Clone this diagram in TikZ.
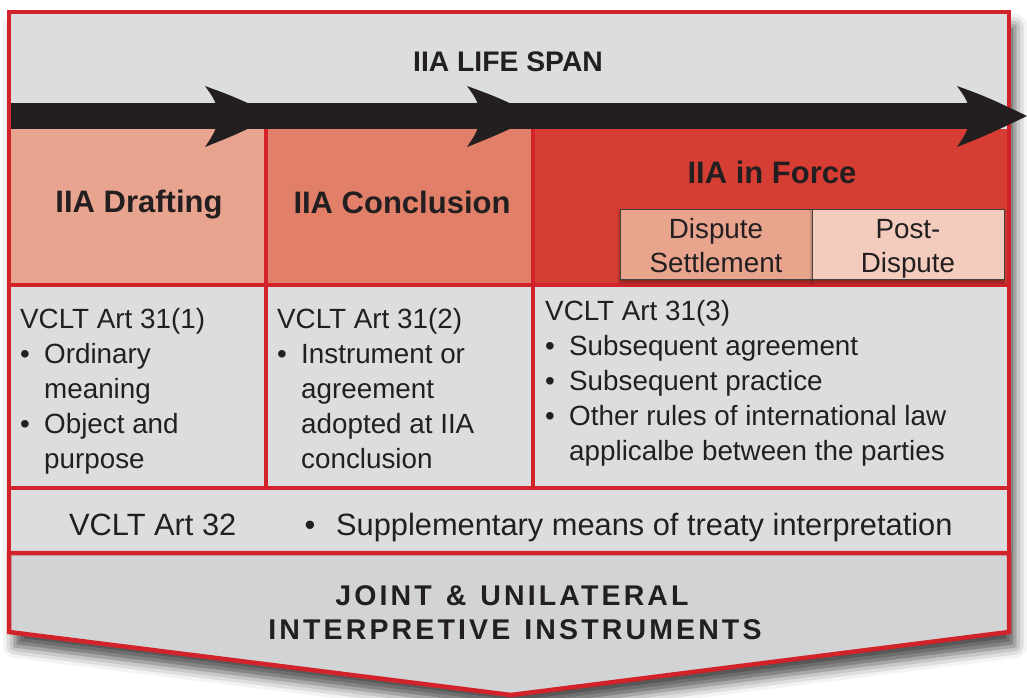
\documentclass[tikz,border=0pt]{standalone}
\usepackage{fontspec}
\setmainfont{Liberation Sans}
\newfontfamily\spacedfont[LetterSpace=11]{Liberation Sans}
\usetikzlibrary{shadows.blur}

\definecolor{ink}{HTML}{231F20}
\definecolor{frame}{HTML}{D2232A}
\definecolor{panel}{HTML}{DCDDDF}
\definecolor{panelB}{HTML}{D1D3D4}
\definecolor{drafting}{HTML}{E8A48E}
\definecolor{conclusion}{HTML}{E17F68}
\definecolor{inforce}{HTML}{D63D33}
\definecolor{dispute}{HTML}{E9A48E}
\definecolor{postdispute}{HTML}{F3CCBE}

\tikzset{
  redline/.style={draw=frame, line width=4.5pt},
  body/.style={text=ink, inner sep=0pt, anchor=base west, font=\fontsize{27.8}{35}\selectfont},
  bodyc/.style={text=ink, inner sep=0pt, anchor=base, font=\fontsize{27.8}{35}\selectfont},
  art/.style={text=ink, inner sep=0pt, font=\fontsize{30.8}{36}\selectfont},
  phase/.style={text=ink, inner sep=0pt, anchor=base, font=\bfseries\fontsize{31}{37}\selectfont},
  headline/.style={text=ink, inner sep=0pt, anchor=base, font=\bfseries\fontsize{28.3}{34}\selectfont},
  spaced/.style={text=ink, inner sep=0pt, anchor=base, font=\spacedfont\bfseries\fontsize{28.5}{34}\selectfont},
  subbox/.style={draw=ink!85, line width=0.9pt, minimum width=192pt, minimum height=70pt, inner sep=0pt,
    blur shadow={shadow xshift=0pt, shadow yshift=-3pt, shadow blur radius=3pt, shadow opacity=45}}
}
\newcommand{\bul}[1]{\makebox[24pt][l]{\textbullet}#1}
\newcommand{\wsp}{\hspace{14pt}}

\begin{document}
\begin{tikzpicture}[x=1pt,y=-1pt]
\useasboundingbox (0,0) rectangle (1027,698);

% drop shadow behind the whole chart
\path[fill=panelB, blur shadow={shadow xshift=6pt, shadow yshift=-14pt, shadow blur radius=12pt, shadow opacity=70}]
  (9,12) -- (1009,12) -- (1009,632) -- (511,695) -- (9,632) -- cycle;

% panels
\fill[panel] (9,12) rectangle (1009,553);
\fill[drafting] (11,129) rectangle (266,285);
\fill[conclusion] (266,129) rectangle (533,285);
\fill[inforce] (533,129) rectangle (1007,285);

% bottom pointer
\filldraw[fill=panelB, redline, line join=miter]
  (9,553) -- (1009,553) -- (1009,632) -- (511,695) -- (9,632) -- cycle;

% red frame and grid
\draw[redline] (9,12) rectangle (1009,553);
\draw[redline] (9,285) -- (1009,285);
\draw[redline] (9,488) -- (1009,488);
\draw[redline] (266,129) -- (266,488);
\draw[redline] (533,129) -- (533,488);

% life-span arrow
\fill[ink] (11.25,103) rectangle (1000,129);
\foreach \bx in {205,467,957}
  \fill[ink] (\bx,86) .. controls (\bx+30,97) .. (\bx+70,116)
             .. controls (\bx+30,135) .. (\bx,147)
             .. controls (\bx+10,132) .. (\bx+14,116)
             .. controls (\bx+10,100) .. cycle;

% in-force sub-phases
\node[subbox, fill=dispute] (ds) at (716,244) {};
\node[subbox, fill=postdispute] (pd) at (908,244) {};

% headings
\node[headline] (span) at (508,72) {IIA LIFE SPAN};
\node[phase] (draft) at (139,212) {IIA Drafting};
\node[phase] (concl) at (402,213) {IIA Conclusion};
\node[phase] (force) at (772,183) {IIA in Force};
\node[bodyc] (ds1) at (716,238) {Dispute};
\node[bodyc] (ds2) at (716,272) {Settlement};
\node[bodyc] (pd1) at (908,238) {Post-};
\node[bodyc] (pd2) at (908,272) {Dispute};

% VCLT Art 31 cells
\node[body] (c1t) at (20,328) {VCLT Art 31(1)};
\node[body] (c1a) at (20,363) {\bul{Ordinary}};
\node[body] (c1b) at (44,398) {meaning};
\node[body] (c1c) at (20,433) {\bul{Object and}};
\node[body] (c1d) at (44,468) {purpose};

\node[body] (c2t) at (277,328) {VCLT Art 31(2)};
\node[body] (c2a) at (277,363) {\bul{Instrument or}};
\node[body] (c2b) at (301,398) {agreement};
\node[body] (c2c) at (301,433) {adopted at IIA};
\node[body] (c2d) at (301,468) {conclusion};

\node[body] (c3t) at (545,320) {VCLT Art 31(3)};
\node[body] (c3a) at (545,355) {\bul{Subsequent agreement}};
\node[body] (c3b) at (545,390) {\bul{Subsequent practice}};
\node[body] (c3c) at (545,425) {\bul{Other rules of international law}};
\node[body] (c3d) at (569,460) {applicalbe between the parties};

% VCLT Art 32 row
\node[art, anchor=base west] (a32) at (69,535) {VCLT Art 32};
\node[art, anchor=base] (a32b) at (310,535) {\textbullet};
\node[art, anchor=base west] (a32t) at (336,535) {Supplementary means of treaty interpretation};

% pointer caption
\node[spaced] (jt1) at (512,605) {JOINT\wsp\&\wsp UNILATERAL};
\node[spaced] (jt2) at (515,639) {INTERPRETIVE\wsp INSTRUMENTS};
\end{tikzpicture}
\end{document}
